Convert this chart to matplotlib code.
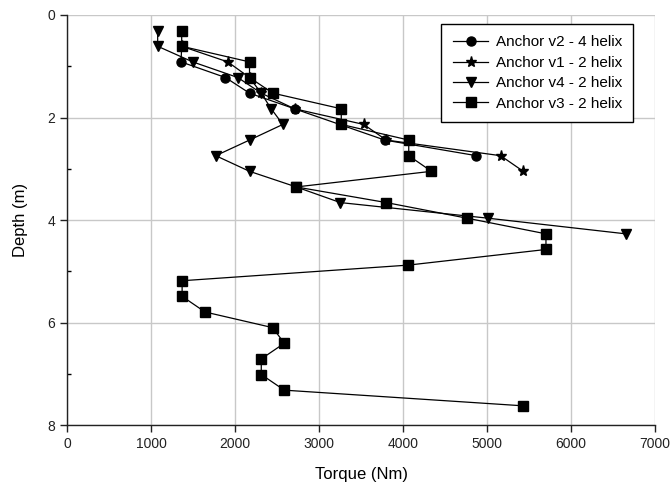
import numpy as np
import matplotlib.pyplot as plt
from matplotlib.ticker import MultipleLocator

plt.rcParams['font.family'] = ['Liberation Sans', 'DejaVu Sans']

# depths in metres (1 ft steps)
depth_v2 = [0.61, 0.915, 1.22, 1.525, 1.83, 2.44, 2.745]
torque_v2 = [1365, 1357, 1886, 2172, 2708, 3781, 4873]

depth_v1 = [0.61, 0.915, 1.22, 1.525, 1.83, 2.135, 2.44, 2.745, 3.05]
torque_v1 = [1365, 1913, 2172, 2311, 2708, 3530, 3800, 5160, 5430]

depth_v4 = [0.305, 0.61, 0.915, 1.22, 1.525, 1.83, 2.135, 2.44, 2.745,
            3.05, 3.355, 3.66, 3.965, 4.27]
torque_v4 = [1079, 1079, 1496, 2033, 2311, 2430, 2569, 2172, 1770,
             2172, 2728, 3253, 5012, 6650]

depth_v3 = [0.305, 0.61, 0.915, 1.22, 1.525, 1.83, 2.135, 2.44, 2.745,
            3.05, 3.355, 3.66, 3.965, 4.27, 4.575, 4.88, 5.185, 5.49,
            5.795, 6.1, 6.405, 6.71, 7.015, 7.32, 7.625]
torque_v3 = [1365, 1365, 2172, 2172, 2450, 3264, 3264, 4067, 4067,
             4337, 2728, 3800, 4762, 5700, 5700, 4062, 1370, 1370,
             1643, 2447, 2586, 2312, 2312, 2586, 5422]

fig = plt.figure(figsize=(6.72, 4.95), dpi=100)
ax = fig.add_axes([0.0997, 0.1414, 0.8753, 0.8283])

kw = dict(color='black', lw=0.9, markersize=6.5)
ax.plot(torque_v2, depth_v2, marker='o', label='Anchor v2 - 4 helix', **kw)
ax.plot(torque_v1, depth_v1, marker='*', label='Anchor v1 - 2 helix',
        color='black', lw=0.9, markersize=8)
ax.plot(torque_v4, depth_v4, marker='v', label='Anchor v4 - 2 helix',
        color='black', lw=0.9, markersize=7)
ax.plot(torque_v3, depth_v3, marker='s', label='Anchor v3 - 2 helix', **kw)

ax.set_xlim(0, 7000)
ax.set_ylim(8, 0)
ax.xaxis.set_major_locator(MultipleLocator(1000))
ax.yaxis.set_major_locator(MultipleLocator(2))
ax.yaxis.set_minor_locator(MultipleLocator(1))
ax.grid(True, which='major', color='#c8c8c8', lw=1)
ax.set_axisbelow(True)

for s in ['top', 'right']:
    ax.spines[s].set_visible(False)
for s in ['left', 'bottom']:
    ax.spines[s].set_linewidth(1)
    ax.spines[s].set_color('#222222')

ax.tick_params(axis='both', which='major', direction='out', length=5,
               width=1, labelsize=10, colors='#222222')
ax.tick_params(axis='y', which='minor', direction='in', length=3, width=1)

ax.set_xlabel('Torque (Nm)', fontsize=12, labelpad=12)
ax.set_ylabel('Depth (m)', fontsize=12, labelpad=14)

leg = ax.legend(loc='upper right', bbox_to_anchor=(0.963, 0.978),
                borderaxespad=0, fontsize=11, frameon=True, fancybox=False,
                edgecolor='black', framealpha=1, handlelength=2.3,
                handletextpad=0.5, labelspacing=0.42, borderpad=0.75)
leg.get_frame().set_linewidth(1)

fig.savefig('out.png', dpi=100)
